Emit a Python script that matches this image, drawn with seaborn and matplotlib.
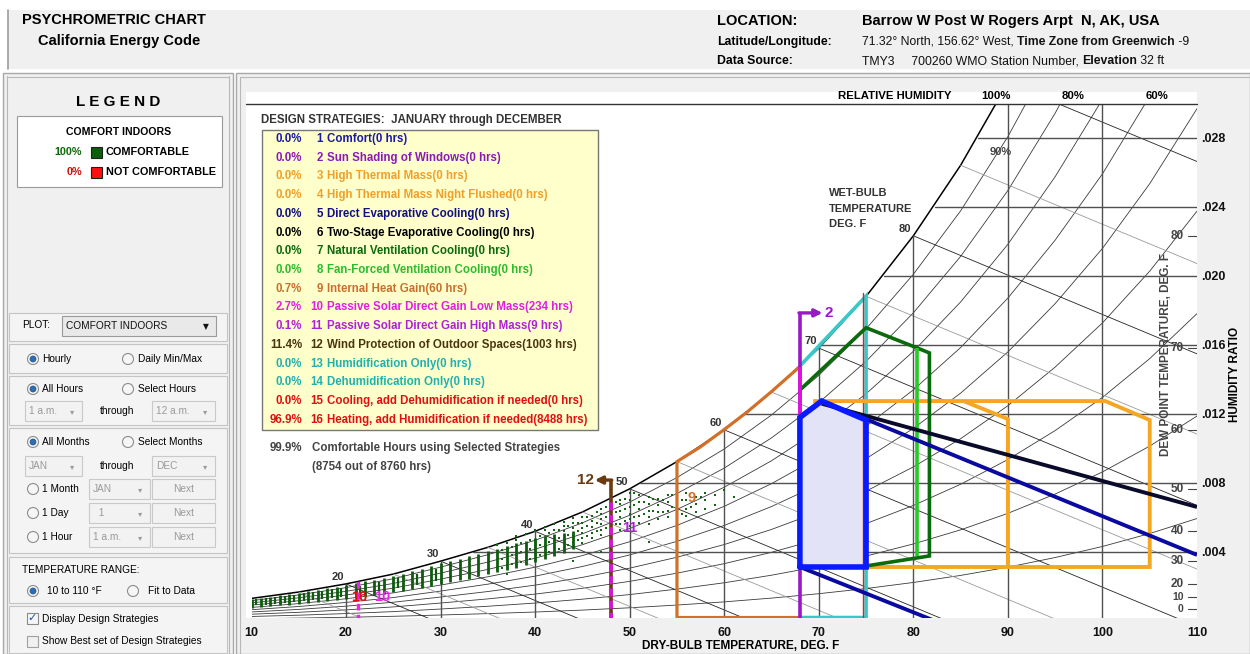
import numpy as np
import pandas as pd
import seaborn as sns
import matplotlib.pyplot as plt
from matplotlib.patches import Rectangle, Ellipse

# ---------------- values ----------------
# saturation (100% RH) humidity ratio along the top curve, every 5 F
sat_t = [10, 15, 20, 25, 30, 35, 40, 45, 50, 55, 60, 65, 70, 75, 80, 85, 90, 95, 100, 105, 110]
sat_w = [0.00131, 0.00168, 0.00215, 0.00272, 0.00347, 0.00427, 0.00520, 0.00632, 0.00766, 0.00924,
         0.01108, 0.01327, 0.01582, 0.01882, 0.02233, 0.02642, 0.03120, 0.03680, 0.04320, 0.05070, 0.05940]
rh_levels = [0.1, 0.2, 0.3, 0.4, 0.5, 0.6, 0.7, 0.8, 0.9]

# wet-bulb lines: start on saturation curve, end where humidity ratio is 0
wb_t = [20, 30, 40, 50, 60, 70, 80, 90]
wb_end_t = [29.4, 45.2, 62.8, 83.6, 108.6, 139.4, 177.9, 226.8]
# lighter enthalpy lines in between
enth_t = [15, 25, 35, 45, 55, 65, 75, 85]
enth_end_t = [22.4, 36.9, 53.7, 72.7, 95.5, 123.2, 157.5, 200.9]
wb_labels = [20, 30, 40, 50, 60, 70, 80]

hr_ticks = [0.004, 0.008, 0.012, 0.016, 0.020, 0.024, 0.028]
hr_tick_labels = ['.004', '.008', '.012', '.016', '.020', '.024', '.028']
hr_start_t = [33.4, 51.1, 62.2, 70.3, 76.9, 82.3, 86.8]
db_ticks = [10, 20, 30, 40, 50, 60, 70, 80, 90, 100, 110]
dp_labels = [0, 10, 20, 30, 40, 50, 60, 70, 80]
dp_w = [0.00072, 0.00138, 0.00215, 0.00347, 0.00520, 0.00766, 0.01108, 0.01582, 0.02233]

# hourly weather points: dense columns (one per whole degree) ...
bar_t = list(range(10, 45))
bar_top = [0.00128, 0.00135, 0.00141, 0.00148, 0.00156, 0.00163, 0.00171, 0.00180, 0.00189, 0.00199,
           0.00208, 0.00219, 0.00229, 0.00240, 0.00251, 0.00262, 0.00275, 0.00289, 0.00303, 0.00318,
           0.00336, 0.00350, 0.00362, 0.00375, 0.00390, 0.00405, 0.00420, 0.00434, 0.00450, 0.00466,
           0.00483, 0.00494, 0.00505, 0.00512, 0.00520]
bar_bot = [0.00078, 0.00082, 0.00086, 0.00090, 0.00095, 0.00100, 0.00105, 0.00110, 0.00116, 0.00122,
           0.00128, 0.00135, 0.00142, 0.00150, 0.00158, 0.00166, 0.00175, 0.00184, 0.00194, 0.00204,
           0.00214, 0.00225, 0.00236, 0.00246, 0.00258, 0.00270, 0.00283, 0.00296, 0.00310, 0.00325,
           0.00340, 0.00360, 0.00375, 0.00395, 0.00420]
# ... in-between columns of the cold band
half_t = [10.5, 11.5, 12.5, 13.5, 14.5, 15.5, 16.5, 17.5, 18.5, 19.5, 21.5, 23.5, 25.5, 27.5, 29.5]
half_top = [0.00125, 0.00131, 0.00138, 0.00145, 0.00152, 0.00160, 0.00168, 0.00176, 0.00185, 0.00194,
            0.00205, 0.00226, 0.00248, 0.00272, 0.00300]
half_bot = [0.00090, 0.00094, 0.00098, 0.00103, 0.00108, 0.00113, 0.00119, 0.00125, 0.00131, 0.00138,
            0.00158, 0.00172, 0.00190, 0.00208, 0.00230]
# ... and the single hours of the warmer days
dot_t = [36, 36, 37, 37, 38, 38, 38, 39, 39, 40, 40, 41, 41, 41, 42, 42, 42, 43, 43, 43, 43,
         44, 44, 44, 44, 44, 45, 45, 45, 45, 45, 45, 46, 46, 46, 46, 46, 47, 47, 47, 47, 47, 47,
         48, 48, 48, 48, 48, 49, 49, 49, 49, 49, 49, 50, 50, 50, 50, 50, 50, 51, 51, 51, 51, 51,
         52, 52, 52, 52, 52, 53, 53, 53, 53, 54, 54, 54, 54, 55, 55, 55, 55, 56, 56, 56, 56, 57,
         57, 57, 58, 58, 58, 59, 59, 60, 61, 33, 35, 37, 44, 47, 52]
dot_w = [0.00300, 0.00440, 0.00320, 0.00455, 0.00330, 0.00470, 0.00490, 0.00350, 0.00505, 0.00520,
         0.00530, 0.00440, 0.00530, 0.00545, 0.00455, 0.00530, 0.00560, 0.00470, 0.00520, 0.00550,
         0.00575, 0.00460, 0.00500, 0.00540, 0.00570, 0.00595, 0.00450, 0.00480, 0.00510, 0.00540,
         0.00570, 0.00600, 0.00480, 0.00510, 0.00545, 0.00580, 0.00610, 0.00500, 0.00530, 0.00560,
         0.00590, 0.00620, 0.00650, 0.00520, 0.00550, 0.00590, 0.00620, 0.00660, 0.00530, 0.00560,
         0.00600, 0.00640, 0.00680, 0.00700, 0.00550, 0.00590, 0.00620, 0.00660, 0.00700, 0.00740,
         0.00570, 0.00610, 0.00650, 0.00690, 0.00730, 0.00560, 0.00600, 0.00640, 0.00680, 0.00720,
         0.00590, 0.00630, 0.00670, 0.00710, 0.00600, 0.00640, 0.00690, 0.00730, 0.00590, 0.00640,
         0.00680, 0.00720, 0.00610, 0.00650, 0.00700, 0.00740, 0.00630, 0.00680, 0.00720, 0.00650,
         0.00700, 0.00740, 0.00670, 0.00730, 0.00760, 0.00720, 0.00250, 0.00280, 0.00270, 0.00350,
         0.00400, 0.00460]
dot2_t = [36.5, 36.5, 36.5, 37.5, 37.5, 37.5, 38.5, 38.5, 38.5, 39.5, 39.5, 39.5, 40.5, 40.5, 40.5,
          41.5, 41.5, 41.5, 42.5, 42.5, 42.5, 43.5, 43.5, 43.5, 44.5, 44.5, 44.5, 45.5, 45.5, 45.5,
          46.5, 46.5, 46.5, 47.5, 47.5, 47.5, 48.5, 48.5, 48.5, 49.5, 49.5, 49.5, 50.5, 50.5, 50.5,
          51.5, 51.5, 52.5, 52.5, 53.5, 53.5, 54.5, 54.5, 55.5, 55.5, 56.5, 57.5]
dot2_w = [0.0031, 0.0036, 0.0041, 0.0033, 0.0038, 0.0043, 0.0034, 0.0040, 0.0045, 0.0036, 0.0042,
          0.0047, 0.0038, 0.0044, 0.0049, 0.0040, 0.0046, 0.0051, 0.0042, 0.0048, 0.0053, 0.0044,
          0.0050, 0.0055, 0.0047, 0.0052, 0.0057, 0.0049, 0.0055, 0.0060, 0.0052, 0.0057, 0.0063,
          0.0054, 0.0060, 0.0066, 0.0056, 0.0063, 0.0069, 0.0058, 0.0065, 0.0071, 0.0060, 0.0067,
          0.0074, 0.0062, 0.0069, 0.0064, 0.0071, 0.0063, 0.0070, 0.0066, 0.0073, 0.0062, 0.0070,
          0.0066, 0.0072]

# design strategy zones (dry bulb F, humidity ratio)
comfort_t = [68.0, 68.0, 70.3, 75.0, 75.0, 68.0]
comfort_w = [0.00313, 0.01180, 0.01275, 0.01165, 0.00313, 0.00313]
evap_t, evap_w = [70.3, 110.0], [0.01275, 0.00383]
evap_low_t, evap_low_w = [68.0, 82.3], [0.00313, 0.0]
twostage_t, twostage_w = [70.3, 110.0], [0.01260, 0.00661]
mass_night_t = [69.4, 100.3, 105.0, 105.0, 75.0]
mass_night_w = [0.01275, 0.01275, 0.01165, 0.00313, 0.00313]
mass_t = [85.3, 90.0, 90.0]
mass_w = [0.01275, 0.01171, 0.00313]
heat_gain_t = [68.0, 55.0, 55.0, 57.5, 60.0, 62.5, 65.0, 68.0]
heat_gain_w = [0.00020, 0.00020, 0.00924, 0.01010, 0.01110, 0.01215, 0.01330, 0.01475]
humid_t = [68.0, 75.0, 75.0, 68.0]
humid_w = [0.01478, 0.01884, 0.00020, 0.00020]
cool_t, cool_w = [74.7, 74.7], [0.01900, 0.0]
natvent_t = [68.0, 75.0, 80.4, 81.7, 81.7, 75.0]
natvent_w = [0.01339, 0.01700, 0.01583, 0.01554, 0.00377, 0.00319]
fan_t, fan_w = [80.4, 80.4], [0.01583, 0.00374]
shade_t, shade_w = [68.0, 68.0], [0.0, 0.01786]
solar_low_t, solar_low_w = [68.0, 68.0], [0.01180, 0.01475]
wind_t, wind_w = [48.0, 48.0], [0.0, 0.00817]
solar_dash_t, solar_dash_w = [48.0, 48.0], [0.0, 0.00713]
solar_cold_t, solar_cold_w = [21.3, 21.3], [0.0, 0.00238]

# design strategy table
pcts = ['0.0%', '0.0%', '0.0%', '0.0%', '0.0%', '0.0%', '0.0%', '0.0%', '0.7%', '2.7%', '0.1%',
        '11.4%', '0.0%', '0.0%', '0.0%', '96.9%']
names = ['Comfort(0 hrs)', 'Sun Shading of Windows(0 hrs)', 'High Thermal Mass(0 hrs)',
         'High Thermal Mass Night Flushed(0 hrs)', 'Direct Evaporative Cooling(0 hrs)',
         'Two-Stage Evaporative Cooling(0 hrs)', 'Natural Ventilation Cooling(0 hrs)',
         'Fan-Forced Ventilation Cooling(0 hrs)', 'Internal Heat Gain(60 hrs)',
         'Passive Solar Direct Gain Low Mass(234 hrs)', 'Passive Solar Direct Gain High Mass(9 hrs)',
         'Wind Protection of Outdoor Spaces(1003 hrs)', 'Humidification Only(0 hrs)',
         'Dehumidification Only(0 hrs)', 'Cooling, add Dehumidification if needed(0 hrs)',
         'Heating, add Humidification if needed(8488 hrs)']
row_colors = ['#1a1aa8', '#8a1ab8', '#f0a02a', '#f0a02a', '#10107e', '#000000', '#0b6a0b', '#2dbb2d',
              '#c8702e', '#e020e0', '#b020d8', '#4b3510', '#20b0b0', '#20b0b0', '#e01010', '#e01010']

# ---------------- figure helpers ----------------
WPX, HPX = 1250, 654
NARROW = ['Liberation Sans Narrow', 'Liberation Sans', 'DejaVu Sans']
ARIAL = ['Liberation Sans', 'DejaVu Sans']

sns.set_theme(style='white')
plt.rcParams['font.family'] = ARIAL

fig = plt.figure(figsize=(12.5, 6.54), dpi=100)
fig.patch.set_facecolor('white')


def fx(x):
    return x / WPX


def fy(y):
    return 1 - y / HPX


def rect(x0, y0, x1, y1, fc, ec='none', lw=0.8, z=-5):
    fig.patches.append(Rectangle((fx(x0), fy(y1)), fx(x1) - fx(x0), fy(y0) - fy(y1),
                                 transform=fig.transFigure, fc=fc, ec=ec, lw=lw, zorder=z))


def hline(x0, x1, y, color, lw=1.0, z=-4):
    fig.add_artist(plt.Line2D([fx(x0), fx(x1)], [fy(y), fy(y)], color=color, lw=lw, zorder=z))


def vline(x, y0, y1, color, lw=1.0, z=-4):
    fig.add_artist(plt.Line2D([fx(x), fx(x)], [fy(y0), fy(y1)], color=color, lw=lw, zorder=z))


def txt(x, y, s, size=8, bold=False, color='black', ha='left', family=None, z=5, **kw):
    return fig.text(fx(x), fy(y), s, fontsize=size, fontweight='bold' if bold else 'normal',
                    color=color, ha=ha, va='center', family=family or ARIAL, zorder=z, **kw)


def runs(x, y, parts, size):
    r = fig.canvas.get_renderer()
    for s, bold in parts:
        t = txt(x, y, s, size=size, bold=bold, color='#111111')
        x += t.get_window_extent(renderer=r).width


def radio(x, y, on):
    fig.patches.append(Ellipse((fx(x), fy(y)), 11 / WPX, 11 / HPX, transform=fig.transFigure,
                               fc='#f6f6f6', ec='#8c8c8c', lw=0.8, zorder=3))
    if on:
        fig.patches.append(Ellipse((fx(x), fy(y)), 6 / WPX, 6 / HPX, transform=fig.transFigure,
                                   fc='#2c6fb5', ec='#1d4f86', lw=0.5, zorder=4))


def combo(x0, x1, yc, s, enabled=False):
    rect(x0, yc - 10, x1, yc + 10, '#e9e9e9' if enabled else '#f2f2f2',
         ec='#9a9a9a' if enabled else '#c9c9c9', z=2)
    col = '#111111' if enabled else '#9a9a9a'
    txt(x0 + 4, yc, s, size=7.3, color=col)
    txt(x1 - 10, yc + 1, '\u25BE' if not enabled else '\u25BC', size=6 if not enabled else 5.5,
        color=col, ha='center', family=['DejaVu Sans'])


def button(x0, x1, yc, s):
    rect(x0, yc - 10, x1, yc + 10, '#f2f2f2', ec='#c9c9c9', z=2)
    txt((x0 + x1) / 2, yc, s, size=7.3, color='#9a9a9a', ha='center')


# ---------------- frame / panels ----------------
rect(8, 10, 1250, 69, '#f0f0f0')
vline(8, 10, 69, '#9c9c9c', lw=1.2)
rect(3, 73, 233, 654, '#f0f0f0', ec='#a8a8a8', lw=1.0)
vline(7, 76, 654, '#b8b8b8', lw=0.8)
vline(229, 76, 654, '#b8b8b8', lw=0.8)
hline(7, 229, 77, '#b8b8b8', lw=0.8)
rect(236, 73, 1250, 654, '#f0f0f0', ec='#a8a8a8', lw=1.0)
vline(240, 77, 654, '#b8b8b8', lw=0.8)
hline(240, 1250, 77, '#b8b8b8', lw=0.8)
rect(246, 92, 1197, 618, 'white')

# header
txt(22, 20, 'PSYCHROMETRIC CHART', size=10.5, bold=True)
txt(38, 41, 'California Energy Code', size=10.5, bold=True)
txt(717, 21, 'LOCATION:', size=10.5, bold=True)
txt(862, 21, 'Barrow W Post W Rogers Arpt  N, AK, USA', size=10.5, bold=True)
txt(717, 42, 'Latitude/Longitude:', size=8.8, bold=True)
runs(862, 42, [('71.32\u00b0 North, 156.62\u00b0 West, ', False), ('Time Zone from Greenwich', True),
               (' -9', False)], 8.8)
txt(717, 61, 'Data Source:', size=8.8, bold=True)
runs(862, 61, [('TMY3     700260 WMO Station Number, ', False), ('Elevation', True), (' 32 ft', False)], 8.8)

# legend panel
txt(118, 102, 'L E G E N D', size=11, bold=True, ha='center')
rect(17, 116, 222, 187, 'white', ec='#9a9a9a', z=1)
txt(119, 132, 'COMFORT INDOORS', size=7.6, bold=True, ha='center', family=NARROW)
txt(82, 152, '100%', size=7.8, bold=True, color='#0b6a0b', ha='right', family=NARROW)
rect(91, 147, 102, 158, '#0b5e0b', ec='#202020', z=2)
txt(106, 152, 'COMFORTABLE', size=7.8, bold=True, family=NARROW)
txt(82, 172, '0%', size=7.8, bold=True, color='#d01010', ha='right', family=NARROW)
rect(91, 167, 102, 178, '#ff1010', ec='#202020', z=2)
txt(106, 172, 'NOT COMFORTABLE', size=7.8, bold=True, family=NARROW)

# control widgets
for y0, y1 in [(313, 341), (344, 373), (376, 425), (428, 553), (557, 603), (606, 653)]:
    rect(9, y0, 227, y1, '#f4f4f4', ec='#c4c4c4', z=1)
txt(22, 325, 'PLOT:', size=7.3)
combo(62, 216, 326, 'COMFORT INDOORS', enabled=True)
radio(33, 359, True)
txt(42, 359, 'Hourly', size=7.3)
radio(128, 359, False)
txt(138, 359, 'Daily Min/Max', size=7.3)
radio(33, 389, True)
txt(42, 389, 'All Hours', size=7.3)
radio(128, 389, False)
txt(138, 389, 'Select Hours', size=7.3)
combo(25, 82, 411, '1 a.m.')
txt(100, 411, 'through', size=7.3)
combo(152, 215, 411, '12 a.m.')
radio(33, 442, True)
txt(42, 442, 'All Months', size=7.3)
radio(128, 442, False)
txt(138, 442, 'Select Months', size=7.3)
combo(25, 82, 466, 'JAN')
txt(100, 466, 'through', size=7.3)
combo(152, 215, 466, 'DEC')
for yc, lab, val in [(489, '1 Month', 'JAN'), (513, '1 Day', '  1'), (537, '1 Hour', '1 a.m.')]:
    radio(33, yc, False)
    txt(42, yc, lab, size=7.3)
    combo(89, 150, yc, val)
    button(152, 215, yc, 'Next')
txt(22, 570, 'TEMPERATURE RANGE:', size=7.3)
radio(33, 591, True)
txt(47, 591, '10 to 110 \u00b0F', size=7.3)
radio(133, 591, False)
txt(148, 591, 'Fit to Data', size=7.3)
rect(27, 613, 38, 624, '#f4f6fb', ec='#8a8a8a', z=2)
txt(32.5, 618, '\u2713', size=8, bold=True, color='#2a4f96', ha='center', family=['DejaVu Sans'])
txt(42, 619, 'Display Design Strategies', size=7.3)
rect(27, 636, 38, 647, '#f0f0f0', ec='#a0a0a0', z=2)
txt(42, 641, 'Show Best set of Design Strategies', size=7.3)

# ---------------- psychrometric axes ----------------
ax = fig.add_axes([fx(251.5), fy(618.4), fx(1197) - fx(251.5), fy(103.5) - fy(618.4)])
ax.set_xlim(10, 110)
ax.set_ylim(0.00015, 0.030)
ax.patch.set_alpha(0)
for s in ax.spines.values():
    s.set_visible(False)

sat = dict(zip(sat_t, sat_w))

# relative humidity curves
rh_df = pd.DataFrame([(rh, t, rh * w) for rh in rh_levels for t, w in zip(sat_t, sat_w)],
                     columns=['RH', 'T', 'W'])
sns.lineplot(data=rh_df, x='T', y='W', units='RH', estimator=None, sort=False, color='#3a3a3a',
             linewidth=0.6, legend=False, ax=ax)
ax.plot(sat_t, sat_w, color='black', lw=1.1)

# wet bulb and enthalpy lines
for t0, t1 in zip(enth_t, enth_end_t):
    ax.plot([t0, t1], [sat[t0], 0.0], color='#9a9a9a', lw=0.6)
for t0, t1 in zip(wb_t, wb_end_t):
    ax.plot([t0, t1], [sat[t0], 0.0], color='#222222', lw=0.6)
for t in wb_labels:
    ax.text(t - 0.2, sat[t] + 0.0001, str(t), ha='right', va='bottom', fontsize=8, color='#333333',
            family=NARROW, fontweight='bold')

# humidity ratio and dry bulb grid
for w, t0 in zip(hr_ticks, hr_start_t):
    ax.plot([t0, 110], [w, w], color='#505050', lw=1.0)
for t in db_ticks[1:-1]:
    ax.plot([t, t], [0, sat.get(t, 0.05)], color='#505050', lw=1.0)

# hourly data
ax.vlines(bar_t, bar_bot, bar_top, color='#0d5c0d', lw=2.0, zorder=3)
ax.vlines(half_t, half_bot, half_top, color='#0d5c0d', lw=1.6, zorder=3)
sns.scatterplot(x=dot_t + dot2_t, y=dot_w + dot2_w, color='#146414', marker='s', s=2.2, linewidth=0,
                ax=ax, zorder=3)

# strategy zones
kw = dict(solid_joinstyle='miter', solid_capstyle='butt', zorder=6)
ax.fill(comfort_t, comfort_w, color='#e3e3f7', zorder=4, lw=0)
ax.plot(heat_gain_t, heat_gain_w, color='#d2702a', lw=2.3, **kw)
ax.plot(humid_t, humid_w, color='#38c8c8', lw=2.6, **kw)
ax.plot(cool_t, cool_w, color='#e02020', lw=1.0, zorder=6)
ax.plot(mass_night_t, mass_night_w, color='#f5a623', lw=2.8, **kw)
ax.plot(mass_t, mass_w, color='#f5a623', lw=2.8, **kw)
ax.plot(natvent_t, natvent_w, color='#0b6a0b', lw=2.6, **kw)
ax.plot(fan_t, fan_w, color='#22cc22', lw=2.6, **kw)
ax.plot(twostage_t, twostage_w, color='#0a0a2a', lw=2.8, **kw)
ax.plot(evap_t, evap_w, color='#0a0aa0', lw=2.8, **kw)
ax.plot(evap_low_t, evap_low_w, color='#0a0aa0', lw=2.8, **kw)
ax.plot(shade_t, shade_w, color='#9a18c8', lw=2.6, **kw)
ax.plot(solar_low_t, solar_low_w, color='#dd11dd', lw=2.6, **kw)
ax.plot(comfort_t, comfort_w, color='#0a1aff', lw=4.0, zorder=7, solid_joinstyle='miter')
ax.plot(wind_t, wind_w, color='#6b3a10', lw=2.6, **kw)
ax.plot(solar_dash_t, solar_dash_w, color='#dd11dd', lw=2.6, dashes=(2.2, 1.2), zorder=7)
ax.plot(solar_cold_t, solar_cold_w, color='#ee22ee', lw=2.4, dashes=(2.0, 1.3), zorder=7)
ax.annotate('', xy=(70.4, shade_w[1]), xytext=(67.9, shade_w[1]), zorder=8,
            arrowprops=dict(arrowstyle='-|>', color='#9a18c8', lw=2.4, mutation_scale=11,
                            shrinkA=0, shrinkB=0))
ax.annotate('', xy=(46.3, wind_w[1]), xytext=(48.1, wind_w[1]), zorder=8,
            arrowprops=dict(arrowstyle='-|>', color='#6b3a10', lw=2.4, mutation_scale=11,
                            shrinkA=0, shrinkB=0))
ax.text(70.6, shade_w[1], '2', color='#9a18c8', fontsize=11, fontweight='bold', va='center', zorder=8)
ax.text(46.2, wind_w[1], '12', color='#6b3a10', fontsize=11, fontweight='bold', va='center',
        ha='right', zorder=8)
ax.text(56.5, 0.00713, '9', color='#d2702a', fontsize=10.5, fontweight='bold', ha='center',
        va='center', zorder=8)
ax.text(50.0, 0.00540, '11', color='#b020d8', fontsize=10.5, fontweight='bold', ha='center',
        va='center', zorder=8)
ax.text(21.4, 0.00138, '16', color='#e01010', fontsize=10.5, fontweight='bold', ha='center',
        va='center', zorder=8)
ax.text(23.8, 0.00138, '10', color='#ee22ee', fontsize=10.5, fontweight='bold', ha='center',
        va='center', zorder=8)

# dew point scale on the right
for d, w in zip(dp_labels, dp_w):
    ax.text(108.6, w, str(d), ha='right', va='center', fontsize=8.5 if d > 10 else 7.5,
            color='#444444', family=NARROW, fontweight='bold')
    ax.plot([109.1, 110], [w, w], color='#444444', lw=0.8)

# axes ticks: dry bulb below, humidity ratio on the right
ax.set_xticks(db_ticks)
ax.set_xticklabels([str(t) for t in db_ticks], fontsize=9, fontweight='bold', family=NARROW)
ax.yaxis.tick_right()
ax.set_yticks(hr_ticks)
ax.set_yticklabels(hr_tick_labels, fontsize=9, fontweight='bold', family=NARROW)
ax.tick_params(length=0, pad=6, colors='#111111')
ax.tick_params(axis='y', pad=3)
ax.set_xlabel('')
ax.set_ylabel('')

txt(741, 646, 'DRY-BULB TEMPERATURE, DEG. F', size=8.5, bold=True, ha='center', family=NARROW)
txt(1235, 374, 'HUMIDITY RATIO', size=8.5, bold=True, ha='center', family=NARROW, rotation=90)
txt(1166, 355, 'DEW POINT TEMPERATURE, DEG. F', size=8.5, bold=True, ha='center', family=NARROW,
    rotation=90, color='#444444')
txt(895, 96, 'RELATIVE HUMIDITY', size=8.2, bold=True, ha='center', family=NARROW)
txt(996, 96, '100%', size=8.2, bold=True, ha='center', family=NARROW)
txt(1073, 96, '80%', size=8.2, bold=True, ha='center', family=NARROW)
txt(1157, 96, '60%', size=8.2, bold=True, ha='center', family=NARROW)
hline(246, 1197, 104, '#333333', lw=1.0, z=5)
txt(1001, 152, '90%', size=8, bold=True, ha='center', family=NARROW, color='#444444')
txt(829, 193, 'WET-BULB', size=8, bold=True, family=NARROW, color='#333333')
txt(829, 209, 'TEMPERATURE', size=8, bold=True, family=NARROW, color='#333333')
txt(829, 224, 'DEG. F', size=8, bold=True, family=NARROW, color='#333333')

# design strategy table
txt(261, 120, 'DESIGN STRATEGIES:  JANUARY through DECEMBER', size=8.3, bold=True, color='#333333',
    family=NARROW)
rect(262, 130, 598, 430, '#ffffcc', ec='#777777', lw=1.0, z=2)
for i, (p, name, c) in enumerate(zip(pcts, names, row_colors)):
    y = 139 + i * 18.72
    txt(302, y, p, size=8.3, bold=True, color=c, ha='right', family=NARROW)
    txt(323, y, str(i + 1), size=8.3, bold=True, color=c, ha='right', family=NARROW)
    txt(327, y, name, size=8.3, bold=True, color=c, family=NARROW)
txt(302, 448, '99.9%', size=8.3, bold=True, color='#444444', ha='right', family=NARROW)
txt(312, 448, 'Comfortable Hours using Selected Strategies', size=8.3, bold=True, color='#444444',
    family=NARROW)
txt(312, 467, '(8754 out of 8760 hrs)', size=8.3, bold=True, color='#444444', family=NARROW)

fig.savefig('out.png', dpi=100)
